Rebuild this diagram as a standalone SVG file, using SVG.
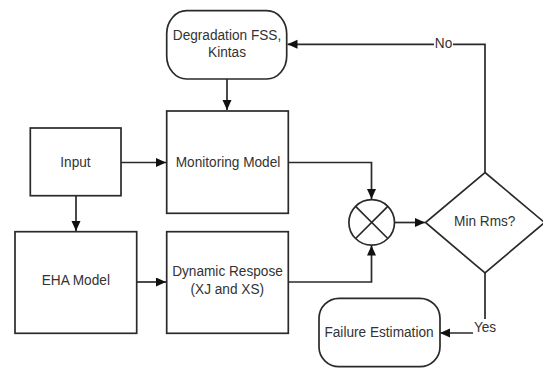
<svg xmlns="http://www.w3.org/2000/svg" width="543" height="370" viewBox="0 0 543 370">
<style>
.shape{fill:#fff;stroke:#2a2a2a;stroke-width:1.7}
.conn{fill:none;stroke:#2a2a2a;stroke-width:1.7}
.t{font-family:"Liberation Sans",Arial,sans-serif;font-size:15px;fill:#333;text-anchor:middle}
.lbl{fill:#fff;stroke:none}
</style>
<defs>
<marker id="arr" markerUnits="userSpaceOnUse" markerWidth="11" markerHeight="10" refX="10" refY="4.5" orient="auto">
<path d="M0,0 L10,4.5 L0,9 z" fill="#111"/>
</marker>
</defs>
<rect width="543" height="370" fill="#fff"/>
<g id="connectors">
<path class="conn" d="M227,79 L227,110" marker-end="url(#arr)"/>
<path class="conn" d="M121,162.5 L166,162.5" marker-end="url(#arr)"/>
<path class="conn" d="M76,196 L76,231" marker-end="url(#arr)"/>
<path class="conn" d="M137,282 L166,282" marker-end="url(#arr)"/>
<path class="conn" d="M288.5,162.5 L371.5,162.5 L371.5,199" marker-end="url(#arr)"/>
<path class="conn" d="M288.5,282 L371.5,282 L371.5,245.5" marker-end="url(#arr)"/>
<path class="conn" d="M394.5,222.5 L425,222.5" marker-end="url(#arr)"/>
<path class="conn" d="M485,172.5 L485,44.3 L287.5,44.3" marker-end="url(#arr)"/>
<path class="conn" d="M485,273 L485,333 L440,333" marker-end="url(#arr)"/>
<rect class="lbl" x="434" y="37" width="19" height="13"/>
<text class="t" transform="translate(443.5,48.3) scale(0.91,1)">No</text>
<rect class="lbl" x="473" y="319" width="25" height="15"/>
<text class="t" transform="translate(485,332.3) scale(0.91,1)">Yes</text>
</g>
<g id="degradation">
<rect class="shape" x="166.7" y="10.7" width="120" height="68.3" rx="20" ry="23"/>
<text class="t" transform="translate(227,40) scale(0.91,1)">Degradation FSS,</text>
<text class="t" transform="translate(227,57.3) scale(0.91,1)">Kintas</text>
</g>
<g id="monitoring">
<rect class="shape" x="166.7" y="111" width="121.6" height="102.3"/>
<text class="t" transform="translate(228,166.8) scale(0.91,1)">Monitoring Model</text>
</g>
<g id="input">
<rect class="shape" x="30.3" y="128" width="90.7" height="67.7"/>
<text class="t" transform="translate(75.5,166.5) scale(0.91,1)">Input</text>
</g>
<g id="eha">
<rect class="shape" x="15" y="231.7" width="121.7" height="101.6"/>
<text class="t" transform="translate(75.8,285.3) scale(0.91,1)">EHA Model</text>
</g>
<g id="dynamic">
<rect class="shape" x="166.7" y="231.7" width="121.6" height="101.6"/>
<text class="t" transform="translate(227.5,276) scale(0.91,1)">Dynamic Respose</text>
<text class="t" transform="translate(227.3,293.5) scale(0.91,1)">(XJ and XS)</text>
</g>
<g id="multiplier">
<circle class="shape" cx="371.7" cy="222.4" r="22.8"/>
<path class="conn" d="M355.6,206.3 L387.8,238.5 M387.8,206.3 L355.6,238.5"/>
</g>
<g id="decision">
<polygon class="shape" points="485,172.5 544.5,222.5 485,273 425.5,222.5"/>
<text class="t" transform="translate(484.7,226) scale(0.91,1)">Min Rms?</text>
</g>
<g id="failure">
<rect class="shape" x="319" y="298.3" width="121" height="68.4" rx="20" ry="20"/>
<text class="t" transform="translate(379,336.8) scale(0.91,1)">Failure Estimation</text>
</g>
</svg>
